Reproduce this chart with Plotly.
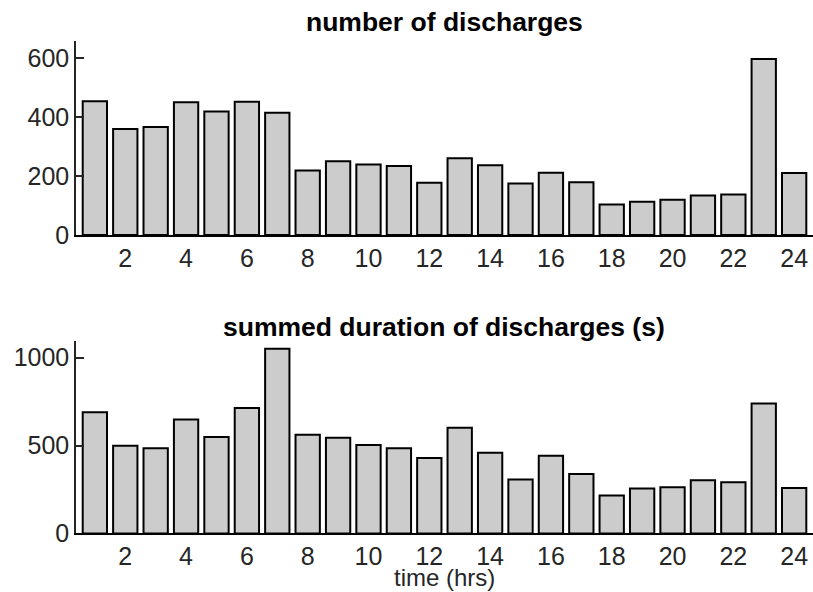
import plotly.graph_objects as go
from plotly.subplots import make_subplots

hours = list(range(1, 25))
n_discharges = [455, 360, 367, 451, 420, 453, 416, 219, 251, 240, 235, 178,
                261, 237, 175, 212, 179, 104, 113, 120, 134, 138, 598, 211]
duration = [690, 499, 484, 648, 548, 714, 1051, 561, 544, 503, 484, 429,
            601, 459, 306, 442, 338, 215, 255, 263, 302, 291, 739, 259]
x_ticks = [2, 4, 6, 8, 10, 12, 14, 16, 18, 20, 22, 24]

fig = make_subplots(rows=2, cols=1)
bar_style = dict(marker=dict(color="#cccccc", line=dict(color="black", width=2)),
                 width=0.8, showlegend=False, hoverinfo="x+y")
fig.add_trace(go.Bar(x=hours, y=n_discharges, **bar_style), row=1, col=1)
fig.add_trace(go.Bar(x=hours, y=duration, **bar_style), row=2, col=1)

font = "Liberation Sans, Arial, Helvetica, sans-serif"
xcommon = dict(range=[0.38, 24.62], tickvals=x_ticks, ticks="", showline=True,
               linecolor="black", linewidth=2, showgrid=False, zeroline=False,
               tickfont=dict(size=25, color="#262626", family=font), automargin=False)
ycommon = dict(ticks="inside", ticklen=8, tickcolor="#262626", tickwidth=1.5,
               showline=True, linecolor="#262626", linewidth=1.5, showgrid=False,
               zeroline=False,
               tickfont=dict(size=25, color="#262626", family=font),
               automargin=False)

fig.update_layout(
    width=813, height=592, margin=dict(l=0, r=0, t=0, b=0),
    plot_bgcolor="white", paper_bgcolor="white", bargap=0.2,
    xaxis=dict(domain=[0.0935, 1.0], anchor="y", **xcommon),
    xaxis2=dict(domain=[0.0935, 1.0], anchor="y2", **xcommon),
    yaxis=dict(domain=[0.603, 0.931], range=[0, 660], tickvals=[0, 200, 400, 600], anchor="x", **ycommon),
    yaxis2=dict(domain=[0.099, 0.424], range=[0, 1095], tickvals=[0, 500, 1000], anchor="x2", **ycommon),
    annotations=[
        dict(text="<b>number of discharges</b>", x=0.5467, y=1 - 22 / 592, xref="paper", yref="paper",
             showarrow=False, font=dict(size=26.5, color="black", family=font), yanchor="middle"),
        dict(text="<b>summed duration of discharges (s)</b>", x=0.5467, y=1 - 327 / 592, xref="paper", yref="paper",
             showarrow=False, font=dict(size=26.5, color="black", family=font), yanchor="middle"),
        dict(text="time (hrs)", x=0.5467, y=0, xref="paper", yref="paper", borderpad=0,
             showarrow=False, font=dict(size=24, color="#262626", family=font), yanchor="bottom"),
    ],
)

fig.write_html("out.html")
